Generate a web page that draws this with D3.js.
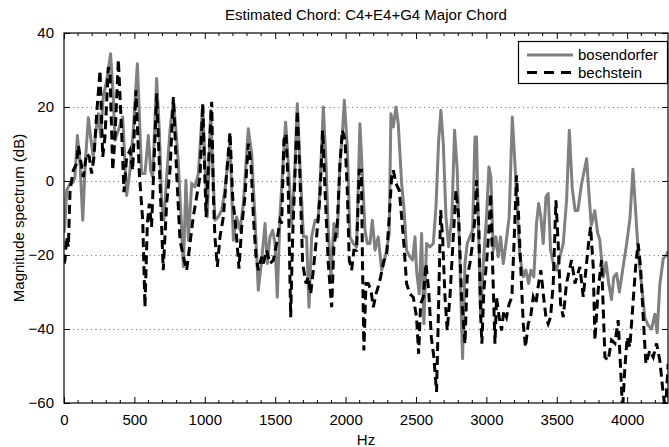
<!DOCTYPE html>
<html>
<head>
<meta charset="utf-8">
<script src="https://cdn.jsdelivr.net/npm/d3@7"></script>
<style>
  body { margin: 0; background: #fff; }
  svg text { font-family: "Liberation Sans", Arial, Helvetica, sans-serif; }
</style>
</head>
<body>
<svg width="669" height="447"></svg>
<script>
const title = 'Estimated Chord: C4+E4+G4 Major Chord';
const xLabel = 'Hz';
const yLabel = 'Magnitude spectrum (dB)';
const seriesNames = ['bosendorfer', 'bechstein'];
const xTicks = [0, 500, 1000, 1500, 2000, 2500, 3000, 3500, 4000];
const yTicks = [-60, -40, -20, 0, 20, 40];
const gridValues = [-40, -20, 0, 20];

// bosendorfer: [Hz, dB]
const bosendorfer = [
  [0, -14], [7, -11.5], [19, -2.5], [43, -0.7], [66, -0.3], [78, 1.1], [95, 12.3], [114, 4.7],
  [133, -10.6], [151, 4.7], [173, 17.1], [189, 11.9], [208, 6.5], [227, 13.7], [244, 18.2],
  [260, 11.9], [279, 22.7], [303, 27.2], [331, 34.4], [350, 22.7], [362, 11], [386, 13.7],
  [417, 17.3], [433, 4.7], [445, -3.9], [469, 2.9], [492, 13.7], [521, 31.7], [535, 18.2],
  [551, 2], [575, 2], [599, 12.3], [615, 2.9], [630, 1.1], [658, 27.7], [677, 13.7], [694, -6],
  [710, -10.6], [729, 1.1], [753, 13.7], [777, 21.8], [795, 13.7], [812, 4.7], [836, -13.3],
  [848, -23.2], [866, 0.2], [883, -16], [907, -0.7], [930, -1.6], [954, 2], [985, 20.5],
  [1001, 4.7], [1018, -9.7], [1042, 19.1], [1056, 4.7], [1072, -10.6], [1096, -9.7],
  [1120, -7.9], [1143, -2.5], [1179, 11], [1203, -16], [1226, -9.7], [1250, -13.3],
  [1274, -6.1], [1309, 14.1], [1333, 7.4], [1356, -9.7], [1380, -29.5], [1404, -21.4],
  [1428, -11.5], [1444, -22.3], [1463, -15.1], [1482, -13.3], [1499, -16.9], [1515, -31.4],
  [1534, -9.7], [1558, 6.5], [1574, 15.9], [1593, 4.7], [1617, -11.5], [1636, 0.2],
  [1657, 20.9], [1676, 4.7], [1700, -15.1], [1723, -15.1], [1740, -34.1], [1759, -15.1],
  [1783, -10.6], [1806, -10.6], [1825, 4.7], [1842, 20], [1861, 4.7], [1877, -13.3],
  [1896, -25.9], [1917, -11.5], [1941, -15.1], [1960, 4.7], [1977, 12.8], [1991, 21.8],
  [2012, 9.2], [2031, -15.1], [2055, -16.9], [2078, -17.8], [2102, 15.5], [2121, 0.2],
  [2138, -13.3], [2154, -16.9], [2173, -16.9], [2190, -10.6], [2209, -18.7], [2232, -15.1],
  [2256, -24.1], [2272, -22.3], [2291, -18.7], [2310, -14.2], [2322, 18.2], [2339, 14.6],
  [2358, 20], [2374, 15.5], [2398, -0.7], [2414, -7], [2433, -18.7], [2457, -20.5],
  [2476, -21.4], [2493, -15.1], [2504, -24.1], [2523, -30.5], [2540, -14.2], [2556, -38.6],
  [2575, -16.9], [2599, -17.8], [2623, -16.9], [2642, -7], [2661, 11], [2677, 19.1],
  [2694, 10.1], [2713, -9.7], [2732, -17.8], [2755, -9.7], [2774, 13.7], [2793, 2.9],
  [2812, -22.3], [2831, -48], [2848, -22.3], [2864, -16.9], [2883, -15.1], [2902, -13.3],
  [2919, 11.9], [2930, 11.9], [2942, -9.7], [2959, -36.8], [2978, -22.3], [3001, -9.7],
  [3018, 3.8], [3032, 1.1], [3049, -18.7], [3068, -15.1], [3084, -20.5], [3101, -15.1],
  [3120, -22.3], [3139, -16.9], [3162, -9.7], [3184, 17.3], [3203, 4.7], [3222, -9.7],
  [3238, -20.5], [3262, -25.9], [3281, -24.1], [3300, -27.7], [3316, -24.1], [3337, -25.9],
  [3356, -11.5], [3371, -6.1], [3387, -9.7], [3404, -16.9], [3423, -4.3], [3439, -3.4],
  [3456, -18.7], [3475, -22.3], [3498, -24.1], [3522, -20.5], [3546, -16.9], [3570, -5],
  [3589, 13.7], [3610, -2], [3630, -8], [3650, -8], [3675, -1], [3712, 6], [3728, -3],
  [3745, -12], [3770, -8], [3790, -14], [3806, -16], [3830, -26], [3850, -22], [3870, -28],
  [3889, -32], [3905, -26], [3925, -25], [3945, -30], [3972, -23], [3996, -17], [4020, -10],
  [4041, 3.2], [4055, -5], [4078, -19], [4102, -28], [4126, -37], [4149, -39], [4173, -40],
  [4197, -36], [4213, -41], [4232, -28], [4256, -21], [4280, -20], [4290, -19]
];

// bechstein: [Hz, dB]
const bechstein = [
  [0, -22.3], [7, -21.4], [19, -15.1], [31, -17.8], [43, -2.5], [66, 2.9], [90, 4.7], [102, 9.6],
  [118, 5.6], [137, 1.1], [161, 7.4], [180, 6.5], [196, 2], [213, 6.5], [232, 18.2], [256, 29.9],
  [275, 6.5], [291, 11.9], [315, 30.8], [327, 29], [346, 2.9], [362, 11.9], [386, 32.8],
  [409, 13.7], [426, -3], [445, 6.5], [469, 8.3], [488, 2.9], [511, 24.5], [535, 2],
  [559, -10.6], [575, -34.1], [592, -11.5], [606, -6.1], [622, -12.4], [639, 4.7], [658, 23.6],
  [677, 4.7], [705, -24.1], [729, -6.1], [753, 2.9], [777, 22.7], [800, 2], [824, -16],
  [848, -20.5], [871, -24.1], [895, -16.9], [918, -9.7], [942, -4.3], [966, 1.1], [985, 20.9],
  [1009, -9.7], [1032, 9.2], [1049, 21.4], [1061, -4.3], [1072, -15.1], [1089, -23.2],
  [1108, -15.1], [1132, -9.7], [1155, 2], [1179, 13.2], [1198, -4.3], [1222, -13.3],
  [1243, -23.7], [1262, -12.4], [1285, -4.3], [1309, 10.1], [1328, 4.7], [1345, -9.7],
  [1364, -20.5], [1380, -24.1], [1404, -20.5], [1416, -22.3], [1439, -18.7], [1463, -22.3],
  [1487, -21.4], [1510, -16.9], [1534, -10.6], [1546, -11.5], [1562, 11], [1577, 12.8],
  [1593, -2.5], [1610, -36.8], [1624, -15.1], [1641, 2], [1657, 19.1], [1676, 1.1],
  [1695, -22.3], [1719, -27.7], [1735, -25.9], [1752, -30.5], [1771, -24.1], [1794, -15.1],
  [1818, -4.3], [1837, 13.7], [1854, -2.5], [1877, -22.3], [1901, -34.1], [1917, -17.8],
  [1941, -11.5], [1960, 4.7], [1977, 13.7], [1996, 11], [2012, -2.5], [2026, -21.4],
  [2043, -24.1], [2059, -18.7], [2078, -18.7], [2097, 2.9], [2112, 2.9], [2120, -22],
  [2130, -45.8], [2145, -27.7], [2161, -27.7], [2180, -29.5], [2197, -34.1], [2216, -30.5],
  [2232, -28.6], [2249, -25.9], [2272, -21.4], [2291, -20.5], [2310, -9.7], [2327, 1.1],
  [2339, 2.9], [2358, -0.7], [2381, -2.5], [2398, -9.7], [2414, -16.9], [2433, -27.7],
  [2457, -30.5], [2481, -31.4], [2504, -36.8], [2519, -46.7], [2533, -33.2], [2552, -31.4],
  [2571, -22.3], [2590, -29.5], [2609, -42.2], [2627, -47.6], [2646, -57], [2661, -33.2],
  [2675, -7.9], [2689, -15.1], [2706, -31.4], [2722, -40.4], [2741, -31.4], [2765, -15.1],
  [2784, -2.5], [2803, -9.7], [2824, -31.4], [2848, -44], [2864, -25.9], [2883, -22.3],
  [2902, -16.9], [2919, -9.7], [2930, 0.2], [2947, -13.3], [2959, -35.9], [2968, -44],
  [2982, -29.5], [3001, -22.3], [3018, -13.3], [3030, -3.4], [3044, -22.3], [3061, -44],
  [3072, -31.4], [3091, -36.8], [3108, -40.4], [3124, -35], [3143, -36.8], [3162, -33.2],
  [3181, -31.4], [3198, -15.1], [3214, 1.5], [3229, -9.7], [3243, -22.3], [3262, -38.6],
  [3278, -44.9], [3297, -38.6], [3314, -36.8], [3333, -31.4], [3352, -33.2], [3371, -27.7],
  [3387, -24.1], [3404, -30.5], [3423, -36.8], [3439, -38.6], [3456, -36.8], [3475, -27.7],
  [3494, -5.2], [3510, -16.9], [3527, -33.2], [3546, -36.8], [3569, -27.7], [3605, -21.4],
  [3629, -27.7], [3664, -23.2], [3688, -31.3], [3723, -17.8], [3740, -12.4], [3759, -23.2],
  [3771, -43], [3794, -29.5], [3818, -21.4], [3842, -47.6], [3865, -48.5], [3889, -43],
  [3913, -43.9], [3936, -37.6], [3953, -50.3], [3967, -62], [3984, -50.3], [4000, -42.2],
  [4019, -44.9], [4043, -32.2], [4062, -22.3], [4078, -16.9], [4095, -23.2], [4114, -36.8],
  [4133, -49.4], [4161, -45.8], [4185, -47.6], [4209, -43.9], [4232, -48.5], [4256, -57.5],
  [4272, -62], [4291, -49.4]
];

const margin = { left: 64, right: 668, top: 33, bottom: 403 };
const fontSize = 15;

const svg = d3.select('svg');

const x = d3.scaleLinear().domain([0, 4290]).range([margin.left, margin.right]);
const y = d3.scaleLinear().domain([-60, 40]).range([margin.bottom, margin.top]);

svg.append('clipPath').attr('id', 'plotclip')
  .append('rect')
  .attr('x', margin.left).attr('y', margin.top)
  .attr('width', margin.right - margin.left)
  .attr('height', margin.bottom - margin.top);

// dotted horizontal grid
svg.append('g').selectAll('line')
  .data(gridValues)
  .join('line')
  .attr('x1', margin.left).attr('x2', margin.right)
  .attr('y1', d => y(d) + 0.5).attr('y2', d => y(d) + 0.5)
  .attr('stroke', '#444')
  .attr('stroke-width', 0.8)
  .attr('stroke-dasharray', '1,3.5');

const line = d3.line()
  .x(d => x(d[0]))
  .y(d => y(d[1]));

const plot = svg.append('g').attr('clip-path', 'url(#plotclip)');

plot.append('path')
  .datum(bosendorfer)
  .attr('d', line)
  .attr('fill', 'none')
  .attr('stroke', '#808080')
  .attr('stroke-width', 3)
  .attr('stroke-linejoin', 'round');

plot.append('path')
  .datum(bechstein)
  .attr('d', line)
  .attr('fill', 'none')
  .attr('stroke', '#000')
  .attr('stroke-width', 3)
  .attr('stroke-dasharray', '9,5');

// axes, ticks pointing inward on all four sides
const tickLen = 6;
const bottomAxis = d3.axisBottom(x).tickValues(xTicks).tickSize(-tickLen).tickPadding(tickLen + 5)
  .tickFormat(d3.format('d'));
const topAxis = d3.axisTop(x).tickValues(xTicks).tickSize(-tickLen).tickFormat('');
const leftAxis = d3.axisLeft(y).tickValues(yTicks).tickSize(-tickLen).tickPadding(tickLen + 4)
  .tickFormat(d => d < 0 ? '\u2212' + Math.abs(d) : d);
const rightAxis = d3.axisRight(y).tickValues(yTicks).tickSize(-tickLen).tickFormat('');

const minorTicks = d3.range(100, 4290, 100).filter(d => d % 500 !== 0);

function styleAxis(g) {
  g.select('.domain').remove();
  g.selectAll('.tick line').attr('stroke', '#000').attr('stroke-width', 1);
  g.selectAll('.tick text')
    .attr('fill', '#000')
    .style('font-size', fontSize + 'px');
}

svg.append('g').attr('transform', `translate(0,${margin.bottom})`).call(bottomAxis).call(styleAxis);
svg.append('g').attr('transform', `translate(0,${margin.top})`).call(topAxis).call(styleAxis);
svg.append('g').attr('transform', `translate(${margin.left},0)`).call(leftAxis).call(styleAxis);
svg.append('g').attr('transform', `translate(${margin.right},0)`).call(rightAxis).call(styleAxis);

svg.append('g').selectAll('line')
  .data(minorTicks)
  .join('line')
  .attr('x1', d => x(d)).attr('x2', d => x(d))
  .attr('y1', margin.bottom).attr('y2', margin.bottom - 3)
  .attr('stroke', '#000');
svg.append('g').selectAll('line')
  .data(minorTicks)
  .join('line')
  .attr('x1', d => x(d)).attr('x2', d => x(d))
  .attr('y1', margin.top).attr('y2', margin.top + 3)
  .attr('stroke', '#000');

svg.append('rect')
  .attr('x', margin.left).attr('y', margin.top)
  .attr('width', margin.right - margin.left)
  .attr('height', margin.bottom - margin.top)
  .attr('fill', 'none')
  .attr('stroke', '#000')
  .attr('stroke-width', 1.2);

// labels
svg.append('text')
  .attr('x', (margin.left + margin.right) / 2).attr('y', 20)
  .attr('text-anchor', 'middle')
  .style('font-size', fontSize + 'px')
  .text(title);

svg.append('text')
  .attr('x', (margin.left + margin.right) / 2).attr('y', 445)
  .attr('text-anchor', 'middle')
  .style('font-size', fontSize + 'px')
  .text(xLabel);

svg.append('text')
  .attr('transform', `translate(24,${(margin.top + margin.bottom) / 2}) rotate(-90)`)
  .attr('text-anchor', 'middle')
  .style('font-size', fontSize + 'px')
  .text(yLabel);

// legend
const legend = svg.append('g');
legend.append('rect')
  .attr('x', 518.5).attr('y', 41.5)
  .attr('width', 149).attr('height', 42)
  .attr('fill', '#fff')
  .attr('stroke', '#000')
  .attr('stroke-width', 1.2);

const legendStyles = [
  { stroke: '#808080', width: 3, dash: null },
  { stroke: '#000', width: 3, dash: '10,7' }
];

seriesNames.forEach((name, i) => {
  const ly = 55 + i * 17.5;
  legend.append('line')
    .attr('x1', 527).attr('x2', 573)
    .attr('y1', ly).attr('y2', ly)
    .attr('stroke', legendStyles[i].stroke)
    .attr('stroke-width', legendStyles[i].width)
    .attr('stroke-dasharray', legendStyles[i].dash);
  legend.append('text')
    .attr('x', 578).attr('y', ly + 5)
    .style('font-size', fontSize + 'px')
    .text(name);
});
</script>
</body>
</html>
